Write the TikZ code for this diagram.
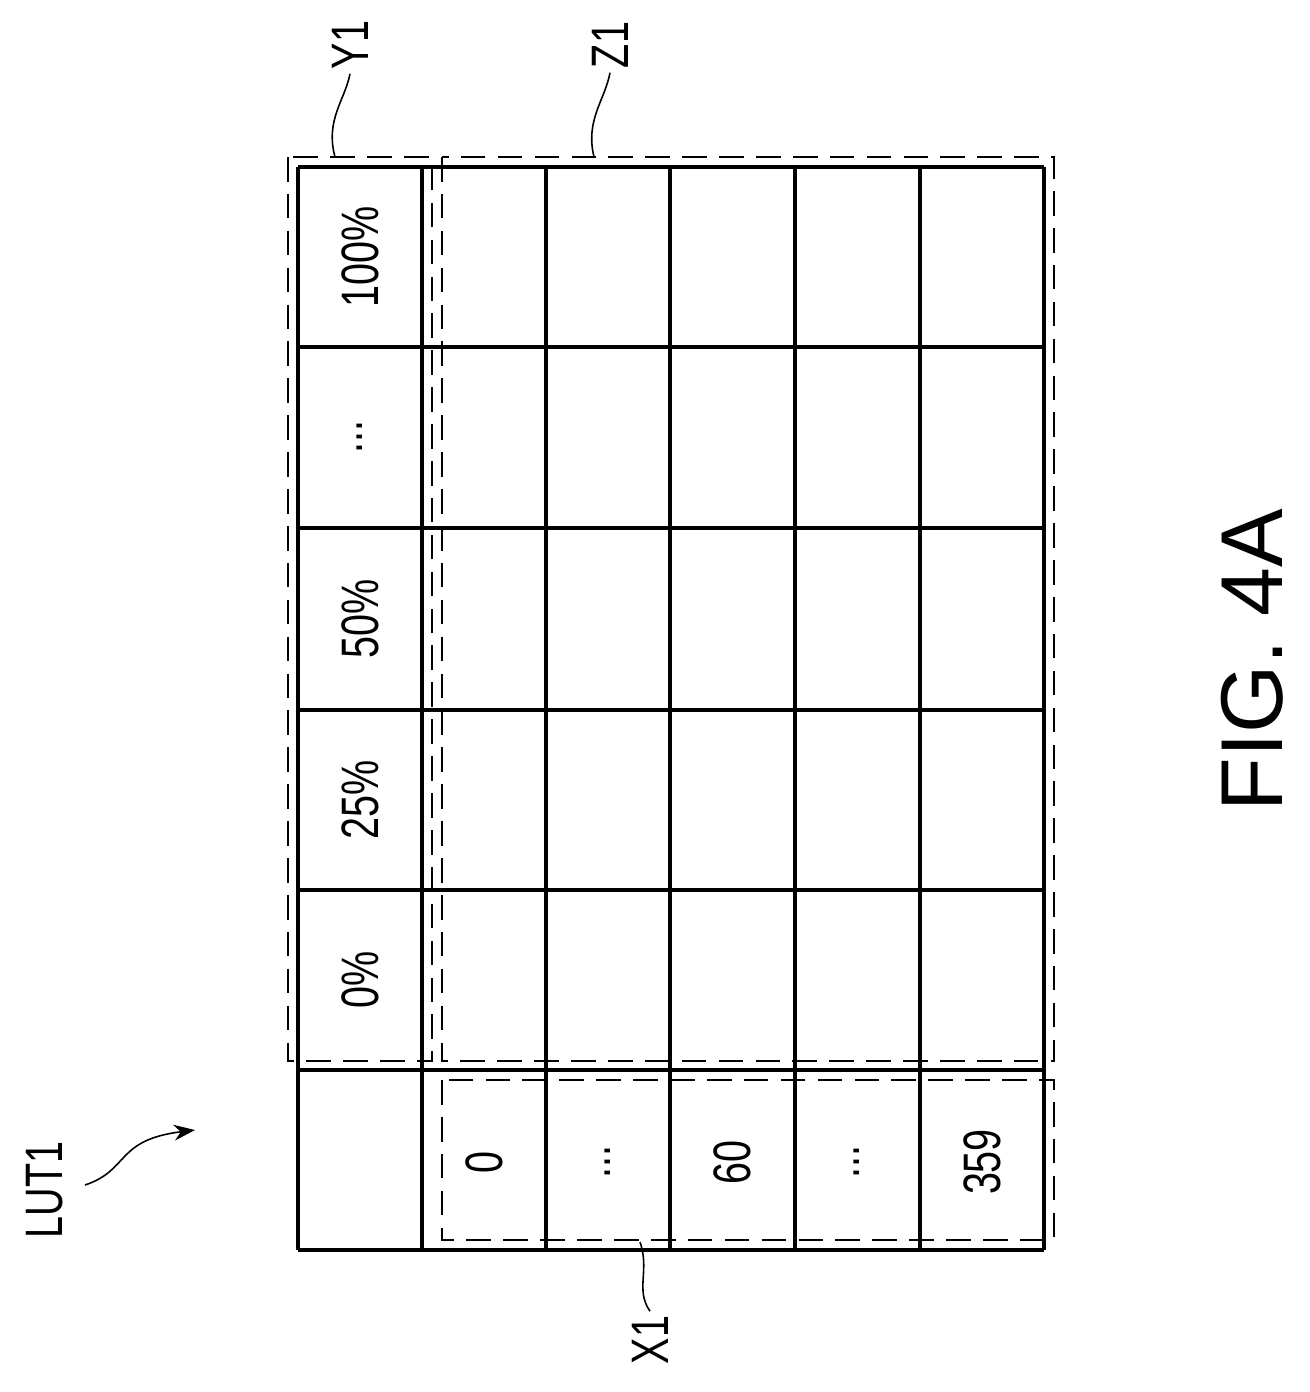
\documentclass[tikz,border=0pt]{standalone}
\usepackage{fontspec}
\setmainfont{Liberation Sans}
\usetikzlibrary{arrows.meta}
\begin{document}
\begin{tikzpicture}[x=0.02cm,y=-0.02cm,
  grid/.style={line width=2.2pt},
  dbox/.style={line width=0.9pt,dash pattern=on 14pt off 7pt},
  lead/.style={line width=0.9pt},
  cell/.style={rotate=90,font=\fontsize{30}{30}\selectfont,xscale=0.75},
  lbl/.style={rotate=90,font=\fontsize{30}{30}\selectfont,xscale=0.75}]
\useasboundingbox (0,0) rectangle (1310,1392);
% grid
\foreach \x in {298,422,546,670,795,920,1044}
  \draw[grid] (\x,167) -- (\x,1250);
\foreach \y in {167,347,528,710,890,1070,1250}
  \draw[grid] (298,\y) -- (1044,\y);
% header column
\node[cell] (p0) at (360,980) {0\%};
\node[cell] (p25) at (360,800) {25\%};
\node[cell] (p50) at (360,619) {50\%};
\node[cell] (pd) at (360,437) {...};
\node[cell] (p100) at (360,257) {100\%};
% header row
\node[cell] (h0) at (484,1162) {0};
\node[cell] (h1) at (608,1162) {...};
\node[cell] (h60) at (732,1162) {60};
\node[cell] (h2) at (857,1162) {...};
\node[cell] (h359) at (982,1162) {359};
% dashed boxes
\draw[dbox] (288,157) rectangle (432,1061);
\draw[dbox] (442,157) rectangle (1054,1061);
\draw[dbox] (442,1080) rectangle (1054,1240);
\coordinate (y1a) at (335,157);
\coordinate (z1a) at (594,157);
\coordinate (x1a) at (640,1242);
\node[lbl] (Y1) at (350,45) {Y1};
\node[lbl] (Z1) at (610,45) {Z1};
\node[lbl] (X1) at (650,1340) {X1};
\node[lbl] (LUT) at (45,1190) {LUT1};
\draw[lead] (y1a) .. controls (325,120) and (345,100) .. (Y1.west);
\draw[lead] (z1a) .. controls (585,120) and (605,100) .. (Z1.west);
\draw[lead] (x1a) .. controls (650,1270) and (635,1290) .. (X1.east);
\draw[lead,-{Stealth[length=12pt,width=9pt]}] (85,1185) .. controls (130,1170) and (115,1140) .. (195,1130);
\node[rotate=90,font=\fontsize{50}{50}\selectfont] (fig) at (1252,660) {FIG. 4A};
\end{tikzpicture}
\end{document}
